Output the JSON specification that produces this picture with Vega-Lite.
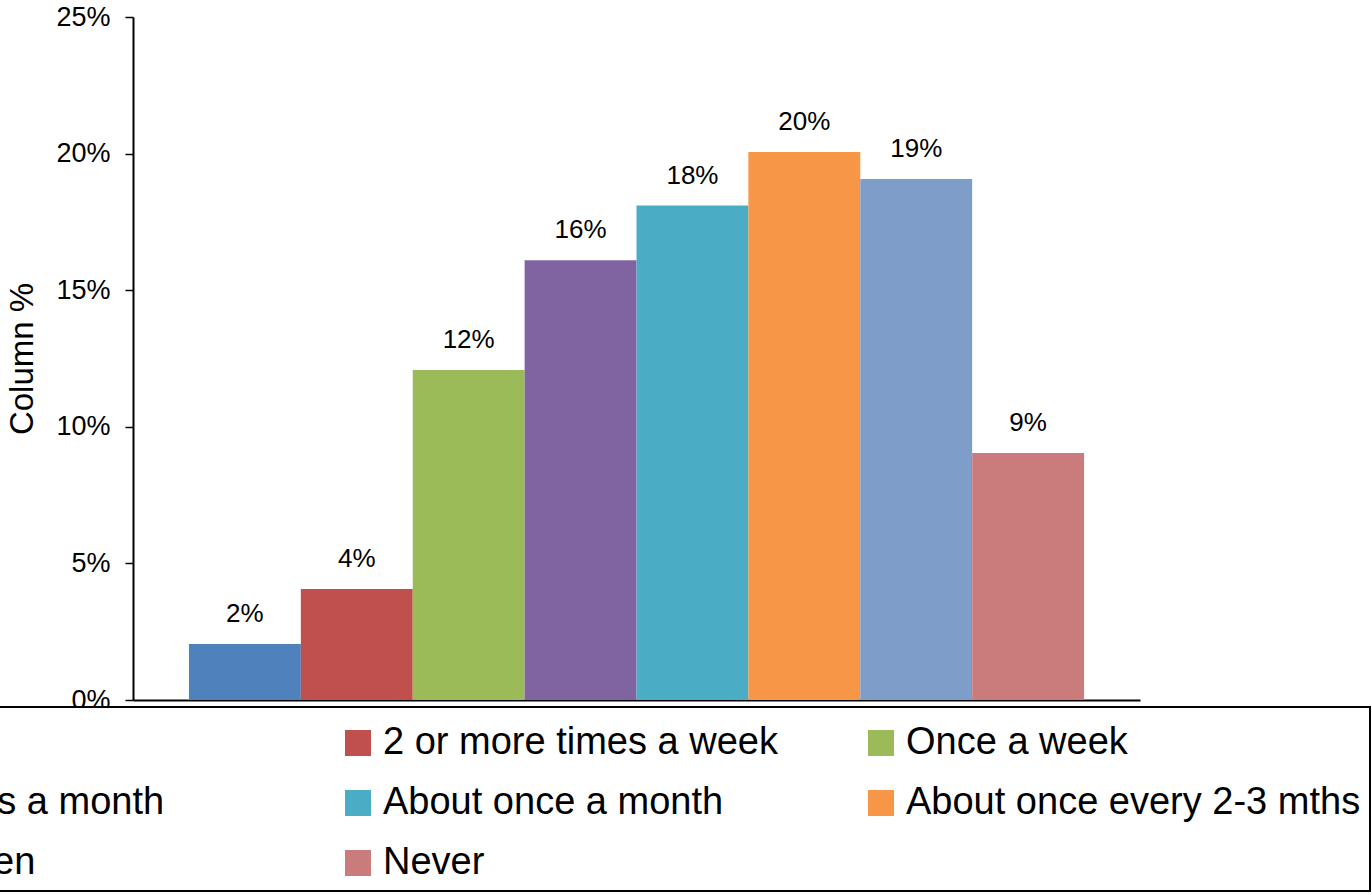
{
  "$schema": "https://vega.github.io/schema/vega-lite/v6.json",
  "width": 1007,
  "height": 683,
  "autosize": {"type": "none"},
  "padding": {"left": 133, "top": 17, "right": 232, "bottom": 195},
  "background": "white",
  "config": {
    "view": {"stroke": null},
    "font": "Liberation Sans",
    "text": {"font": "Liberation Sans"},
    "legend": {"strokeWidth": 2}
  },
  "title": {
    "text": "n=745",
    "orient": "bottom",
    "anchor": "start",
    "frame": "group",
    "fontSize": 16,
    "fontWeight": "normal",
    "color": "black",
    "baseline": "top",
    "dx": -151,
    "offset": 185
  },
  "data": {
    "values": [
      {"category": "Daily", "value": 0.0205},
      {"category": "2 or more times a week", "value": 0.0406},
      {"category": "Once a week", "value": 0.1208},
      {"category": "2-3 times a month", "value": 0.161},
      {"category": "About once a month", "value": 0.181},
      {"category": "About once every 2-3 mths", "value": 0.2006},
      {"category": "Less often", "value": 0.1907},
      {"category": "Never", "value": 0.0904}
    ]
  },
  "encoding": {
    "x": {
      "field": "category",
      "type": "nominal",
      "sort": ["Daily", "2 or more times a week", "Once a week", "2-3 times a month", "About once a month", "About once every 2-3 mths", "Less often", "Never"],
      "scale": {"paddingInner": 0, "paddingOuter": 0.5},
      "axis": {"labels": false, "ticks": false, "title": null, "domainColor": "black", "domainWidth": 2}
    },
    "y": {
      "field": "value",
      "type": "quantitative",
      "scale": {"domain": [0, 0.25], "nice": false},
      "axis": {
        "values": [0, 0.05, 0.1, 0.15, 0.2, 0.25],
        "format": ".0%",
        "grid": false,
        "domainColor": "black",
        "domainWidth": 2,
        "tickColor": "black",
        "tickWidth": 1.5,
        "tickSize": 8,
        "labelFontSize": 27,
        "labelColor": "black",
        "labelPadding": 15,
        "labelFlush": false,
        "labelOverlap": false,
        "title": "Column %",
        "titleFontSize": 33,
        "titleFontWeight": "normal",
        "titleColor": "black",
        "titlePadding": 16
      }
    }
  },
  "layer": [
    {
      "mark": {"type": "bar"},
      "encoding": {
        "color": {
          "field": "category",
          "type": "nominal",
          "scale": {
            "domain": ["Daily", "2 or more times a week", "Once a week", "2-3 times a month", "About once a month", "About once every 2-3 mths", "Less often", "Never"],
            "range": ["#4F81BD", "#C0504D", "#9BBB59", "#8064A2", "#4BACC6", "#F79646", "#7F9DC9", "#CA7C7C"]
          },
          "legend": {
            "orient": "none",
            "direction": "horizontal",
            "legendX": -326,
            "legendY": 690,
            "columns": 3,
            "gridAlign": "all",
            "columnPadding": 24,
            "rowPadding": 22,
            "symbolType": "square",
            "symbolSize": 676,
            "symbolStrokeWidth": 0,
            "symbolOpacity": 1,
            "labelFontSize": 38,
            "labelColor": "black",
            "labelLimit": 800,
            "labelOffset": 6,
            "title": " ",
            "titleFontSize": 1,
            "titlePadding": 7,
            "padding": 9,
            "strokeColor": "black",
            "fillColor": "white",
            "zindex": 1
          }
        }
      }
    },
    {
      "mark": {"type": "text", "dy": -22, "baseline": "alphabetic", "fontSize": 26, "color": "black"},
      "encoding": {
        "text": {"field": "value", "type": "quantitative", "format": ".0%"}
      }
    }
  ]
}
